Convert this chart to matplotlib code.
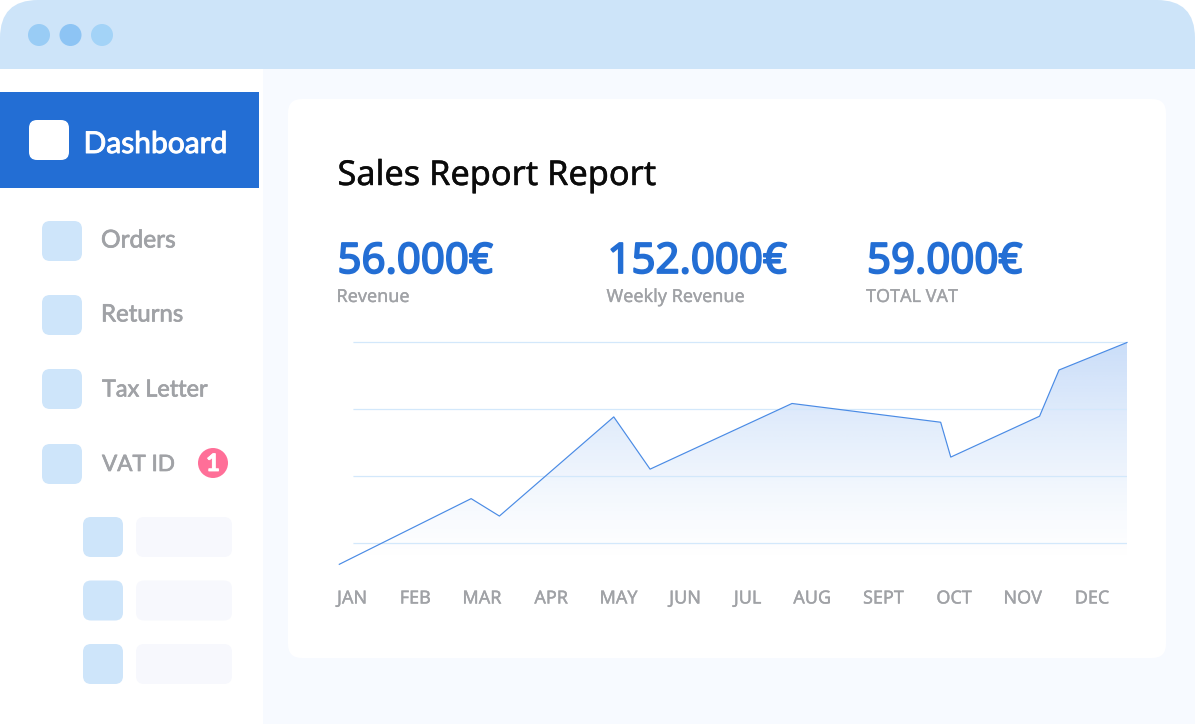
import matplotlib
matplotlib.use('Agg')
import matplotlib.pyplot as plt
import matplotlib.patheffects as pe
from matplotlib.patches import FancyBboxPatch, Circle, Rectangle, Polygon
import numpy as np

# chart data: x in month units (JAN=0), y in thousands
months = ['JAN', 'FEB', 'MAR', 'APR', 'MAY', 'JUN', 'JUL', 'AUG', 'SEPT', 'OCT', 'NOV', 'DEC']
month_pos = [0, 0.94, 1.93, 2.96, 3.96, 4.95, 5.88, 6.84, 7.90, 8.95, 9.97, 11]
sales_x = [-0.19, 1.77, 2.19, 3.89, 4.43, 6.54, 8.75, 8.90, 10.22, 10.51, 11.52]
sales_y = [6.9, 16.7, 14.1, 28.9, 21.1, 30.9, 28.1, 22.9, 29.0, 35.9, 40.0]
grid_vals = [10, 20, 30, 40]

kpi_values = ['56.000€', '152.000€', '59.000€']
kpi_labels = ['Revenue', 'Weekly Revenue', 'TOTAL VAT']
nav_items = ['Orders', 'Returns', 'Tax Letter', 'VAT ID']
nav_sizes = [24.5, 24, 23.5, 22.5]

BLUE = '#236ED4'
LIGHT = '#CEE5FA'
GREY = '#A0A2A6'
W, H = 1195, 724


def px(size):
    return size * 0.72


def heavy(color, w=0.5):
    # fake a heavier weight, the installed families only go so far
    return [pe.withStroke(linewidth=w, foreground=color)]


fig = plt.figure(figsize=(W / 100, H / 100), dpi=100)
fig.patch.set_facecolor('white')

page = fig.add_axes([0, 0, 1, 1])
page.set_xlim(0, W)
page.set_ylim(H, 0)
page.axis('off')


def rbox(x, y, w, h, color, r=8, z=1):
    page.add_patch(FancyBboxPatch((x, y), w, h, boxstyle=f'round,pad=0,rounding_size={r}',
                                  linewidth=0, facecolor=color, zorder=z))


# window chrome
rbox(0, 0, W, 110, '#CDE4F9', r=38, z=1)
page.add_patch(Rectangle((0, 69), 263, H - 69, facecolor='white', linewidth=0, zorder=2))
page.add_patch(Rectangle((263, 69), W - 263, H - 69, facecolor='#F7FAFF', linewidth=0, zorder=2))
for cx, c in zip([39, 70.5, 102], ['#99CCF5', '#8DC4F4', '#A3D3F7']):
    page.add_patch(Circle((cx, 35), 11, facecolor=c, linewidth=0, zorder=3))

# sidebar
page.add_patch(Rectangle((0, 92), 259, 96, facecolor=BLUE, linewidth=0, zorder=3))
rbox(29, 120, 40, 40, 'white', z=4)
page.text(83.5, 144, 'Dashboard', color='white', fontsize=px(30), family='Lato',
          va='center', zorder=5, path_effects=heavy('white', 0.7))
for name, y, tx, fs, dy in zip(nav_items, [221, 295, 369, 444], [101, 101, 102, 102], nav_sizes, [20, 20, 21, 21]):
    rbox(42, y, 40, 40, LIGHT, z=3)
    page.text(tx, y + dy, name, color=GREY, fontsize=px(fs), family='Lato',
              va='center', zorder=5, path_effects=heavy(GREY, 0.5))
page.add_patch(Circle((213, 463), 15, facecolor='#FF6F98', linewidth=0, zorder=3))
page.text(213, 463.5, '1', color='white', fontsize=px(24), family='Lato', fontweight='bold',
          ha='center', va='center', zorder=5, path_effects=heavy('white', 0.6))
for y in [517, 580.5, 644]:
    rbox(83, y, 40, 40, LIGHT, z=3)
    rbox(136, y, 96, 40, '#F7F8FD', z=3)

# card
rbox(288, 99, 878, 559, 'white', r=14, z=3)
page.text(337.5, 176, 'Sales Report Report', color='#0B0B0B', fontsize=px(34.3), family='Noto Sans',
          va='center', zorder=5, path_effects=heavy('#0B0B0B', 0.3))
for x, v, lab in zip([337.5, 607.5, 867], kpi_values, kpi_labels):
    page.text(x, 262, v, color=BLUE, fontsize=px(42), family='Noto Sans',
              va='center', zorder=5, path_effects=heavy(BLUE, 1.3))
    page.text(x - 1, 297, lab, color=GREY, fontsize=px(18), family='Noto Sans', va='center', zorder=5,
              path_effects=heavy(GREY, 0.2))

# chart axes
ax = fig.add_axes([339.3 / W, 1 - 564.5 / H, (1127 - 339.3) / W, (564.5 - 342.3) / H])
ax.patch.set_alpha(0)
ax.set_xlim(-0.19, 11.52)
ax.set_ylim(6.87, 40.03)
for s in ax.spines.values():
    s.set_visible(False)
ax.set_yticks([])
ax.set_xticks(month_pos)
ax.set_xticklabels(months, color=GREY, fontsize=px(18), family='Noto Sans',
                   path_effects=heavy(GREY, 0.25))
ax.tick_params(axis='x', length=0, pad=18)

# gradient area under the line
grad = np.zeros((256, 2, 4))
grad[..., :3] = matplotlib.colors.to_rgb('#2A78E6')
grad[..., 3] = (0.25 * np.linspace(1, 0, 256) ** 1.3)[:, None]
im = ax.imshow(grad, extent=[-0.19, 11.52, 6.87, 40.03], origin='upper', aspect='auto', zorder=1,
               interpolation='bilinear')
verts = list(zip(sales_x, sales_y)) + [(sales_x[-1], 6.87), (sales_x[0], 6.87)]
clip = Polygon(verts, transform=ax.transData, facecolor='none', linewidth=0)
ax.add_patch(clip)
im.set_clip_path(clip)
ax.set_xlim(-0.19, 11.52)
ax.set_ylim(6.87, 40.03)

ax.hlines(grid_vals, 0.02, 11.52, color='#D3E8FB', linewidth=0.9, zorder=2, clip_on=False, snap=False)
ax.plot(sales_x, sales_y, color='#4A8BE5', linewidth=0.85, zorder=3, clip_on=False,
        solid_joinstyle='round')

fig.savefig('out.png', dpi=100, facecolor='white')
